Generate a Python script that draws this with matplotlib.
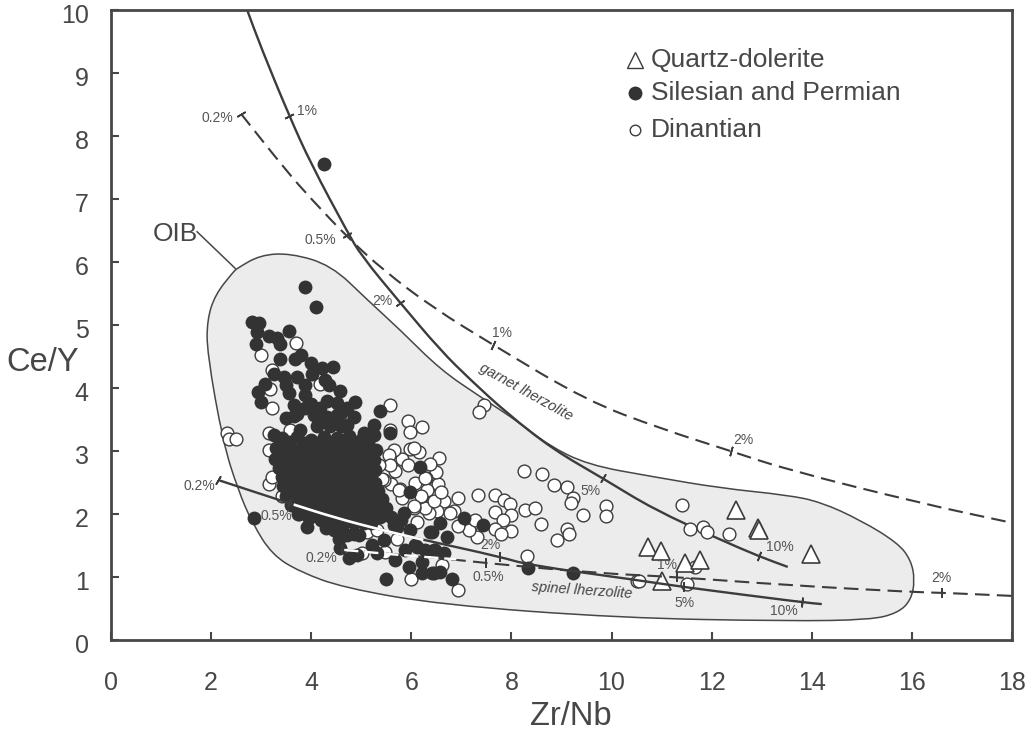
import matplotlib
matplotlib.use("Agg")
import matplotlib.pyplot as plt
from matplotlib.patches import PathPatch
from matplotlib.path import Path
from matplotlib.transforms import ScaledTranslation

plt.rcParams["font.family"] = ["Liberation Sans", "DejaVu Sans"]

GREY = "#474747"
DARK = "#3c3c3c"

# Zr/Nb, Ce/Y
dinantian = [
    (3.69, 4.71), (3.0, 4.52), (3.21, 4.28), (3.18, 3.99), (3.21, 3.69), (4.18, 4.07), (2.31, 3.28), (2.35, 3.19),
    (2.5, 3.19), (3.15, 3.28), (3.15, 3.02), (3.58, 3.34), (3.15, 2.48), (3.21, 2.59), (3.41, 2.28), (5.57, 3.73),
    (7.45, 3.73), (7.36, 3.62), (5.93, 3.47), (6.21, 3.38), (5.97, 3.30), (5.58, 3.33), (8.26, 2.69), (8.61, 2.63),
    (8.86, 2.46), (9.1, 2.43), (9.23, 2.25), (9.19, 2.17), (9.43, 1.99), (9.89, 2.12), (9.89, 1.97), (7.33, 2.30),
    (7.68, 2.30), (7.85, 2.23), (7.98, 2.16), (7.68, 2.03), (7.99, 1.99), (7.83, 1.91), (7.68, 1.76), (7.99, 1.73),
    (7.79, 1.69), (7.31, 1.63), (7.19, 1.83), (7.15, 1.75), (7.28, 1.90), (6.93, 2.26), (6.86, 2.05), (6.66, 2.21),
    (6.51, 2.05), (6.35, 2.02), (6.28, 2.10), (6.46, 2.27), (6.21, 2.29), (6.53, 2.48), (6.5, 2.66), (6.55, 2.89),
    (6.37, 2.80), (6.29, 2.57), (6.15, 2.98), (5.97, 3.03), (6.05, 3.04), (5.81, 2.87), (5.66, 3.02), (5.55, 2.94),
    (5.68, 2.69), (5.93, 2.78), (5.58, 2.78), (5.59, 2.48), (5.77, 2.39), (5.45, 2.54), (5.81, 2.26), (6.05, 2.09),
    (6.08, 2.49), (6.31, 2.38), (6.93, 1.81), (6.78, 2.02), (6.11, 1.88), (8.28, 2.07), (8.48, 2.09), (8.6, 1.84),
    (9.1, 1.76), (9.15, 1.68), (8.91, 1.59), (8.31, 1.34), (5.99, 0.97), (6.93, 0.79), (10.51, 0.93), (6.61, 1.19),
    (5.35, 2.78), (5.41, 2.56), (5.75, 2.38), (6.2, 2.28), (6.05, 2.12), (6.28, 2.57), (5.05, 2.14), (5.11, 1.72),
    (5.31, 1.75), (5.01, 1.38), (5.48, 1.40), (5.71, 1.61), (6.45, 2.2), (6.6, 2.35), (11.41, 2.14), (11.57, 1.76),
    (11.83, 1.79), (11.9, 1.71), (12.35, 1.69), (10.55, 0.94), (11.5, 0.89), (11.66, 1.16),
]
silesian = [
    (4.26, 7.55), (3.88, 5.60), (4.09, 5.29), (2.81, 5.05), (2.95, 5.03), (2.91, 4.89), (2.90, 4.70), (3.16, 4.82),
    (3.31, 4.79), (3.38, 4.70), (3.55, 4.91), (3.38, 4.46), (3.67, 4.46), (3.80, 4.52), (3.99, 4.39), (4.21, 4.31),
    (4.43, 4.33), (4.01, 4.22), (4.28, 4.13), (4.35, 4.05), (3.25, 4.22), (3.45, 4.17), (3.71, 4.17), (3.88, 4.05),
    (3.08, 4.07), (2.93, 3.94), (3.0, 3.77), (3.5, 4.05), (3.55, 3.92), (3.88, 3.89), (4.58, 3.96), (4.31, 3.80),
    (4.51, 3.76), (4.87, 3.77), (3.65, 3.73), (3.88, 3.68), (4.71, 3.68), (4.86, 3.54), (3.5, 3.52), (4.05, 3.57),
    (4.31, 3.54), (4.51, 3.57), (5.38, 3.64), (5.25, 3.41), (5.05, 3.28), (5.25, 3.25), (5.58, 3.28), (3.77, 3.33),
    (4.11, 3.39), (4.38, 3.39), (3.25, 3.25), (3.51, 3.12), (3.72, 3.58), (4.18, 3.68), (4.72, 3.42), (4.6, 3.4),
    (4.0, 3.75), (4.15, 3.5), (4.6, 3.6), (3.65, 3.55),
    # dense part
    (3.42, 3.2), (3.72, 3.22), (4.0, 3.18), (4.25, 3.23), (4.52, 3.2), (4.76, 3.24), (5.0, 3.17),
    (3.3, 3.04), (3.57, 3.07), (3.8, 3.03), (4.1, 3.06), (4.35, 3.03), (4.62, 3.07), (4.85, 3.03), (5.1, 3.05), (5.3, 3.02),
    (3.28, 2.88), (3.55, 2.92), (3.85, 2.89), (4.05, 2.92), (4.3, 2.88), (4.55, 2.91), (4.8, 2.88), (5.05, 2.91), (5.25, 2.86),
    (3.36, 2.73), (3.6, 2.76), (3.85, 2.74), (4.1, 2.77), (4.35, 2.73), (4.6, 2.76), (4.85, 2.73), (5.1, 2.76), (5.28, 2.7),
    (3.42, 2.58), (3.66, 2.61), (3.9, 2.58), (4.15, 2.62), (4.4, 2.58), (4.65, 2.61), (4.9, 2.58), (5.15, 2.6),
    (3.44, 2.44), (3.7, 2.46), (3.95, 2.43), (4.2, 2.47), (4.45, 2.43), (4.7, 2.46), (4.95, 2.43), (5.2, 2.45),
    (3.5, 2.29), (3.75, 2.31), (4.0, 2.28), (4.25, 2.32), (4.5, 2.28), (4.75, 2.31), (5.0, 2.28), (5.25, 2.3), (5.42, 2.24),
    (3.6, 2.14), (3.85, 2.16), (4.1, 2.13), (4.35, 2.17), (4.6, 2.13), (4.85, 2.16), (5.11, 2.12), (5.3, 2.13),
    (3.74, 2.0), (4.0, 2.02), (4.3, 2.0), (4.55, 2.03), (4.8, 1.99), (5.0, 2.0),
    # filling between the rows above
    (3.55, 3.14), (3.86, 3.12), (4.13, 3.12), (4.38, 3.13), (4.64, 3.14), (4.88, 3.13), (5.14, 3.12),
    (3.44, 2.97), (3.7, 2.97), (3.95, 2.98), (4.2, 2.97), (4.45, 2.97), (4.68, 2.98), (4.93, 2.97), (5.18, 2.97),
    (3.47, 2.82), (3.72, 2.83), (3.97, 2.83), (4.22, 2.83), (4.47, 2.82), (4.72, 2.83), (4.97, 2.82), (5.18, 2.82),
    (3.53, 2.67), (3.78, 2.67), (4.03, 2.68), (4.27, 2.67), (4.52, 2.67), (4.77, 2.67), (5.02, 2.67), (5.22, 2.66),
    (3.55, 2.52), (3.8, 2.52), (4.07, 2.52), (4.3, 2.53), (4.55, 2.52), (4.8, 2.52), (5.05, 2.52), (5.27, 2.5),
    (3.6, 2.37), (3.83, 2.37), (4.08, 2.37), (4.33, 2.37), (4.58, 2.37), (4.83, 2.37), (5.08, 2.36), (5.33, 2.37),
    (3.68, 2.22), (3.92, 2.23), (4.18, 2.22), (4.43, 2.23), (4.68, 2.22), (4.93, 2.22), (5.18, 2.21),
    (3.85, 2.07), (4.15, 2.07), (4.43, 2.07), (4.7, 2.07), (4.95, 2.07), (5.2, 2.05),
    # lower tail
    (2.85, 1.94), (3.91, 1.79), (3.95, 1.93), (3.75, 2.0), (4.45, 1.75), (4.71, 1.67), (4.45, 1.85), (4.85, 1.85),
    (4.2, 1.9), (4.65, 1.85), (5.05, 1.85), (4.3, 1.78), (4.6, 1.72), (4.85, 1.68), (4.55, 1.6), (5.1, 1.95), (5.2, 1.85),
    (5.5, 2.1), (5.6, 1.95), (5.8, 1.9),
    (4.95, 1.67), (4.58, 1.46), (4.75, 1.30), (4.91, 1.35), (5.21, 1.51), (5.31, 1.38), (5.45, 1.59), (5.38, 1.96),
    (5.68, 1.27), (5.95, 1.16), (5.5, 0.97), (6.21, 1.06), (6.45, 1.06), (5.85, 2.01), (5.71, 1.80), (5.98, 1.75),
    (6.38, 1.72), (5.88, 1.43), (6.11, 1.48), (6.45, 1.43), (6.21, 1.24), (5.98, 2.35), (6.18, 2.75), (5.38, 2.22),
    (7.05, 1.93), (7.43, 1.83), (6.58, 1.85), (6.41, 1.72), (6.71, 1.64), (5.65, 1.83), (6.08, 1.51), (6.28, 1.43),
    (6.48, 1.43), (6.65, 1.38), (6.41, 1.07), (6.58, 1.08), (6.81, 0.97), (8.33, 1.14), (9.23, 1.07),
]
quartz_dolerite = [
    (12.49, 2.07), (12.92, 1.77), (12.94, 1.74), (13.99, 1.36), (10.73, 1.47),
    (10.99, 1.42), (11.46, 1.22), (11.76, 1.27), (11.0, 0.94),
]

oib_field = [
    (3.58, 6.14), (4.4, 5.95), (5.12, 5.40), (5.78, 4.92), (6.58, 4.29), (7.38, 3.86), (8.18, 3.44),
    (8.72, 3.10), (9.52, 2.78), (10.84, 2.59), (12.18, 2.41), (13.52, 2.30), (14.18, 2.19), (14.98, 1.90), (15.72, 1.54),
    (15.98, 1.27), (16.06, 0.95), (15.98, 0.63), (15.72, 0.43), (15.18, 0.32), (13.52, 0.30), (10.18, 0.35), (6.58, 0.56),
    (4.64, 0.83), (3.78, 1.08), (3.22, 1.35), (2.82, 1.86), (2.54, 2.38), (2.24, 3.13), (1.92, 4.56), (1.92, 5.08),
    (2.08, 5.48), (2.44, 5.84), (2.52, 5.90), (2.98, 6.11),
]
garnet_solid = [
    (2.72, 10), (3.0, 9.4), (3.56, 8.32), (4.0, 7.55), (4.72, 6.48), (5.0, 6.1), (5.78, 5.35), (6.58, 4.6),
    (7.18, 4.13), (7.91, 3.6), (8.84, 3.02), (9.82, 2.57), (10.85, 2.07), (12.18, 1.59), (12.94, 1.33), (13.52, 1.16),
]
garnet_dashed = [
    (2.6, 8.35), (3.5, 7.45), (4.0, 7.0), (4.74, 6.38), (5.44, 5.87), (6.44, 5.27), (7.64, 4.68), (9.5, 3.8),
    (11.0, 3.35), (12.38, 3.0), (13.52, 2.70), (16.18, 2.17), (18.0, 1.86),
]
spinel_solid = [
    (2.14, 2.54), (3.56, 2.17), (4.44, 1.95), (5.38, 1.75), (6.24, 1.59), (7.78, 1.32), (8.34, 1.19),
    (10.52, 0.95), (11.44, 0.84), (13.8, 0.60), (14.2, 0.57),
]
spinel_dashed = [
    (4.62, 1.43), (6.58, 1.30), (7.5, 1.22), (9.72, 1.06), (11.3, 1.0), (13.52, 0.87), (16.04, 0.76), (16.6, 0.75), (18.0, 0.70),
]
# parts of the spinel curves that show white across the black dots
spinel_solid_white = [(3.65, 2.15), (4.44, 1.95), (5.38, 1.75), (6.24, 1.59)]
spinel_dashed_white = [(4.66, 1.43), (5.6, 1.36), (6.9, 1.28)]

# x, y, angle of the little cross marks on the curves
curve_ticks = [
    (3.56, 8.32, -63), (5.78, 5.35, -55), (9.82, 2.57, -30), (12.94, 1.33, -20),
    (2.6, 8.35, -60), (4.72, 6.43, -60), (7.64, 4.68, -25), (12.38, 3.0, -15),
    (4.62, 1.43, 0), (7.5, 1.22, 0), (11.3, 1.0, 0), (16.6, 0.75, 0),
    (2.14, 2.54, -30), (3.56, 2.17, -20), (7.78, 1.32, 0), (11.44, 0.84, 0), (13.8, 0.60, -5),
]
curve_labels = [
    ("1%", 3.92, 8.40), ("0.2%", 2.12, 8.29), ("0.5%", 4.18, 6.35), ("2%", 5.42, 5.38), ("1%", 7.82, 4.87),
    ("2%", 12.64, 3.17), ("5%", 9.58, 2.37), ("10%", 13.36, 1.48), ("0.2%", 1.76, 2.44), ("0.5%", 3.30, 1.97),
    ("0.2%", 4.2, 1.30), ("2%", 7.58, 1.51), ("0.5%", 7.54, 1.0), ("1%", 11.1, 1.19), ("5%", 11.46, 0.59),
    ("10%", 13.44, 0.46), ("2%", 16.58, 0.98),
]
xticks = [0, 2, 4, 6, 8, 10, 12, 14, 16, 18]
yticks = [0, 1, 2, 3, 4, 5, 6, 7, 8, 9, 10]


def smooth_path(pts, closed=False):
    # quadratic pieces through the midpoints, picked points act as controls
    mids = [((a[0] + b[0]) / 2, (a[1] + b[1]) / 2) for a, b in zip(pts[:-1], pts[1:])]
    if closed:
        first = ((pts[-1][0] + pts[0][0]) / 2, (pts[-1][1] + pts[0][1]) / 2)
        verts = [first]
        codes = [Path.MOVETO]
        for p, m in zip(pts, mids + [first]):
            verts += [p, m]
            codes += [Path.CURVE3, Path.CURVE3]
        return Path(verts, codes)
    verts = [pts[0], mids[0]]
    codes = [Path.MOVETO, Path.LINETO]
    for p, m in zip(pts[1:-1], mids[1:]):
        verts += [p, m]
        codes += [Path.CURVE3, Path.CURVE3]
    verts.append(pts[-1])
    codes.append(Path.LINETO)
    return Path(verts, codes)


def draw_curve(ax, pts, color=DARK, lw=1.7, dashes=None, z=6):
    patch = PathPatch(smooth_path(pts), fill=False, edgecolor=color, lw=lw, zorder=z, capstyle="butt")
    if dashes:
        patch.set_linestyle((0, dashes))
    ax.add_patch(patch)


fig = plt.figure(figsize=(10.36, 7.32), dpi=100)
ax = fig.add_axes([111 / 1036, 92 / 732, 901 / 1036, 630 / 732])

ax.add_patch(PathPatch(smooth_path(oib_field, closed=True), facecolor="#ececec", edgecolor=GREY, lw=1.1, zorder=1))
ax.plot([1.72, 2.48], [6.48, 5.90], color=GREY, lw=1.1, zorder=1)

draw_curve(ax, garnet_dashed, lw=1.5, dashes=(7, 3.5), z=2)
draw_curve(ax, garnet_solid, z=2)

ax.plot([p[0] for p in dinantian], [p[1] for p in dinantian], "o", ms=9.2, mfc="white", mec=DARK, mew=1.0, zorder=3)
ax.plot([p[0] for p in silesian], [p[1] for p in silesian], "o", ms=10, mfc="#333333", mec="none", zorder=4)
ax.plot([p[0] for p in quartz_dolerite], [p[1] for p in quartz_dolerite], "^", ms=12.5, mfc="white", mec=DARK, mew=1.2, zorder=5)

draw_curve(ax, spinel_dashed, lw=1.5, dashes=(7, 3.5))
draw_curve(ax, spinel_solid)
draw_curve(ax, spinel_solid_white, color="white", lw=1.9, z=7)
draw_curve(ax, spinel_dashed_white, color="white", lw=1.7, dashes=(6, 2.5), z=7)

for x, y, ang in curve_ticks:
    ax.plot([x], [y], marker=(2, 2, ang), ms=7, mew=1.2, color=DARK, zorder=8, clip_on=False)
for lab, x, y in curve_labels:
    ax.text(x, y, lab, fontsize=10, color="#555555", ha="center", va="center", zorder=9)

ax.text(8.3, 3.93, "garnet lherzolite", fontsize=10.5, style="italic", color="#444444",
        rotation=-29, ha="center", va="center", zorder=9)
ax.text(9.4, 0.78, "spinel lherzolite", fontsize=10.5, style="italic", color="#444444",
        rotation=-4, ha="center", va="center", zorder=9)
ax.text(1.28, 6.44, "OIB", fontsize=19, color=GREY, ha="center", va="center")

# legend drawn by hand in the upper right
ax.plot([10.46], [9.21], "^", ms=11.5, mfc="white", mec=DARK, mew=1.0)
ax.plot([10.46], [8.68], "o", ms=10, mfc="#333333", mec="none")
ax.plot([10.46], [8.10], "o", ms=7.6, mfc="white", mec=DARK, mew=1.0)
ax.text(10.79, 9.21, "Quartz-dolerite", fontsize=19, color=GREY, va="center")
ax.text(10.79, 8.68, "Silesian and Permian", fontsize=19, color=GREY, va="center")
ax.text(10.79, 8.10, "Dinantian", fontsize=19, color=GREY, va="center")

ax.set_xlim(0, 18)
ax.set_ylim(0, 10)
ax.set_xticks(xticks)
ax.set_yticks(yticks)
ax.tick_params(direction="in", length=6, width=1.5, color=GREY, labelcolor=GREY, labelsize=18)
ax.tick_params(axis="x", pad=22)
ax.tick_params(axis="y", pad=16)
shift = ScaledTranslation(0, -3.5 / 100, fig.dpi_scale_trans)
for lab in ax.get_yticklabels():
    lab.set_transform(lab.get_transform() + shift)
ax.set_xlabel("Zr/Nb", fontsize=23.5, color=GREY, va="center")
ax.xaxis.set_label_coords(0.5105, -0.122)
ax.set_ylabel("Ce/Y", fontsize=23.5, color=GREY, rotation=0, ha="center", va="center")
ax.yaxis.set_label_coords(-0.0755, 0.441)
for s in ax.spines.values():
    s.set_linewidth(2)
    s.set_color(GREY)

fig.savefig("out.png", dpi=100)
